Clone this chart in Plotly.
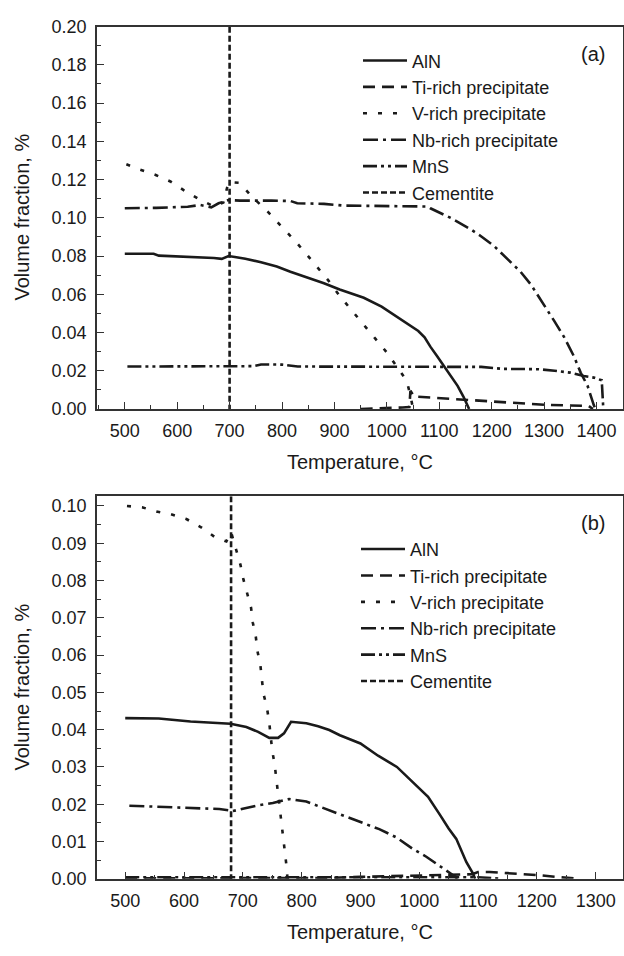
import plotly.graph_objects as go

# ---------------- data: panel (a) ----------------
aln_a_T = [500, 555, 565, 630, 670, 685, 698, 710, 730, 760, 790, 816, 850, 880, 910, 935, 956, 990, 1020, 1045, 1060, 1072, 1083, 1096, 1109, 1122, 1135, 1146, 1157]
aln_a_v = [0.0812, 0.0812, 0.0802, 0.0795, 0.0790, 0.0785, 0.0800, 0.0795, 0.0786, 0.0768, 0.0745, 0.0718, 0.0688, 0.0658, 0.0625, 0.0600, 0.0582, 0.0535, 0.0479, 0.0437, 0.0408, 0.0375, 0.0326, 0.0276, 0.0224, 0.0172, 0.0121, 0.0065, 0.0]

ti_a_T = [950, 1000, 1030, 1043, 1045, 1052, 1080, 1130, 1170, 1220, 1260, 1300, 1350, 1385, 1393]
ti_a_v = [0.0, 0.0003, 0.0008, 0.001, 0.0095, 0.0065, 0.006, 0.005, 0.0044, 0.0037, 0.0028, 0.0022, 0.0018, 0.0016, 0.0]

v_a_T = [503, 529, 559, 587, 613, 641, 671, 688, 698, 719, 743, 771, 797, 822, 846, 869, 889, 911, 934, 956, 978, 1001, 1020, 1038, 1045, 1050]
v_a_v = [0.128, 0.1252, 0.1224, 0.119, 0.1144, 0.1098, 0.1059, 0.108, 0.1187, 0.1183, 0.111, 0.1037, 0.096, 0.0888, 0.0812, 0.0735, 0.067, 0.0588, 0.0513, 0.0445, 0.0368, 0.0292, 0.022, 0.0147, 0.007, 0.0]

nb_a_T = [500, 560, 620, 644, 665, 679, 698, 720, 780, 816, 829, 880, 918, 960, 1000, 1040, 1078, 1083, 1103, 1122, 1160, 1179, 1204, 1230, 1255, 1275, 1300, 1319, 1338, 1357, 1370, 1383, 1395, 1398]
nb_a_v = [0.105, 0.1052, 0.1058, 0.1067, 0.1055, 0.1076, 0.1093, 0.109, 0.109, 0.1088, 0.1076, 0.1073, 0.1064, 0.1062, 0.106, 0.1059, 0.1059, 0.105, 0.1025, 0.0999, 0.094, 0.0905, 0.0854, 0.0786, 0.0718, 0.065, 0.0547, 0.0462, 0.0377, 0.0275, 0.0189, 0.0121, 0.0019, 0.0]

mns_a_T = [505, 600, 700, 745, 760, 800, 830, 900, 1000, 1100, 1180, 1220, 1290, 1320, 1350, 1376, 1395, 1410, 1412, 1413]
mns_a_v = [0.0222, 0.0222, 0.0222, 0.0224, 0.0233, 0.0232, 0.0222, 0.0222, 0.0222, 0.0222, 0.0220, 0.021, 0.0208, 0.020, 0.019, 0.0172, 0.0164, 0.0150, 0.008, 0.0]

cem_a_T = [700, 700]
cem_a_v = [0.2, 0.0]

# ---------------- data: panel (b) ----------------
aln_b_T = [500, 557, 611, 679, 706, 726, 745, 760, 770, 777, 782, 808, 828, 847, 865, 900, 930, 962, 990, 1015, 1035, 1050, 1063, 1080, 1091, 1095]
aln_b_v = [0.0431, 0.0430, 0.0422, 0.0416, 0.0407, 0.0394, 0.0378, 0.0378, 0.0390, 0.0410, 0.0421, 0.0417, 0.0409, 0.0399, 0.0385, 0.0363, 0.0330, 0.0300, 0.0258, 0.0220, 0.0172, 0.0135, 0.0107, 0.0045, 0.0015, 0.0]

ti_b_T = [500, 850, 900, 950, 1000, 1050, 1090, 1100, 1120, 1150, 1200, 1240, 1260, 1270]
ti_b_v = [0.0001, 0.0002, 0.0005, 0.0007, 0.0009, 0.001, 0.0012, 0.0018, 0.0018, 0.0015, 0.001, 0.0004, 0.0002, 0.0]

v_b_T = [503, 530, 553, 577, 604, 629, 652, 672, 680, 689, 696, 701, 707, 714, 717, 722, 725, 730, 735, 741, 745, 750, 754, 757, 760, 765, 768, 771, 774, 776]
v_b_v = [0.100, 0.0996, 0.0985, 0.0978, 0.0965, 0.0943, 0.0917, 0.0905, 0.093, 0.0882, 0.0842, 0.0803, 0.0765, 0.0727, 0.0687, 0.065, 0.061, 0.0571, 0.0497, 0.0459, 0.0418, 0.0343, 0.0308, 0.0269, 0.0229, 0.0155, 0.0116, 0.0076, 0.0038, 0.0]

nb_b_T = [507, 600, 660, 680, 682, 700, 723, 751, 779, 808, 847, 893, 932, 961, 989, 1012, 1029, 1043, 1057, 1065]
nb_b_v = [0.0196, 0.0191, 0.0187, 0.0183, 0.0181, 0.0188, 0.0196, 0.0203, 0.0214, 0.0207, 0.0184, 0.0155, 0.0133, 0.0111, 0.008, 0.0059, 0.0041, 0.0024, 0.001, 0.0]

mns_b_T = [500, 600, 700, 800, 900, 1000, 1100, 1140]
mns_b_v = [0.0004, 0.0004, 0.0004, 0.0004, 0.0004, 0.0004, 0.0004, 0.0]

cem_b_T = [680, 680]
cem_b_v = [0.1026, 0.0]

names = ["AlN", "Ti-rich precipitate", "V-rich precipitate", "Nb-rich precipitate", "MnS", "Cementite"]

# ---------------- styling ----------------
FONT = "Liberation Sans, Arial, sans-serif"
INK = "#1a1a1a"
dashes = ["solid", "12px,7px", "4px,11px", "15px,5px,3px,5px", "14px,4px,3px,4px,3px,4px", "6px,3px"]
W, H = 624, 956

def px_x(p):
    return p / W

def px_y(p):
    return 1 - p / H

fig = go.Figure()

panel_a = [(aln_a_T, aln_a_v), (ti_a_T, ti_a_v), (v_a_T, v_a_v), (nb_a_T, nb_a_v), (mns_a_T, mns_a_v), (cem_a_T, cem_a_v)]
panel_b = [(aln_b_T, aln_b_v), (ti_b_T, ti_b_v), (v_b_T, v_b_v), (nb_b_T, nb_b_v), (mns_b_T, mns_b_v), (cem_b_T, cem_b_v)]

for i, (T, v) in enumerate(panel_a):
    fig.add_trace(go.Scatter(x=T, y=v, mode="lines", name=names[i], xaxis="x", yaxis="y",
                             legend="legend",
                             line=dict(color=INK, width=2.6, dash=dashes[i])))
for i, (T, v) in enumerate(panel_b):
    fig.add_trace(go.Scatter(x=T, y=v, mode="lines", name=names[i], xaxis="x2", yaxis="y2",
                             legend="legend2",
                             line=dict(color=INK, width=2.6, dash=dashes[i])))

x_dom = [px_x(97), px_x(622.7)]
axis_common = dict(showline=True, mirror=True, linecolor="#333", linewidth=1.5,
                   ticks="inside", ticklen=7, tickwidth=1.3, tickcolor="#333",
                   showgrid=False, zeroline=False,
                   tickfont=dict(family=FONT, size=18, color=INK))

fig.update_layout(
    width=W, height=H,
    margin=dict(l=0, r=0, t=0, b=0),
    paper_bgcolor="white", plot_bgcolor="white",
    font=dict(family=FONT, color=INK),
    xaxis=dict(domain=x_dom, anchor="y", range=[447, 1450], tickvals=list(range(500, 1401, 100)),
               minor=dict(tickvals=list(range(450, 1451, 50)), ticks="inside", ticklen=4, tickcolor="#333"),
               ticklabelstandoff=5, **axis_common),
    yaxis=dict(domain=[px_y(407.5), px_y(17)], anchor="x", range=[0, 0.2], tickvals=[i / 100 for i in range(0, 21, 2)],
               ticktext=["%.2f" % (i / 100) for i in range(0, 21, 2)],
               minor=dict(tickvals=[i / 100 for i in range(1, 20, 2)], ticks="inside", ticklen=4, tickcolor="#333"),
               ticklabelstandoff=5, **axis_common),
    xaxis2=dict(domain=x_dom, anchor="y2", range=[452, 1346], tickvals=list(range(500, 1301, 100)),
                minor=dict(tickvals=list(range(500, 1301, 50)), ticks="inside", ticklen=4, tickcolor="#333"),
                ticklabelstandoff=5, **axis_common),
    yaxis2=dict(domain=[px_y(887.3), px_y(496.7)], anchor="x2", range=[0, 0.1026], tickvals=[i / 100 for i in range(0, 11)],
                ticktext=["%.2f" % (i / 100) for i in range(0, 11)],
                minor=dict(tickvals=[i / 1000 for i in range(5, 101, 10)], ticks="inside", ticklen=4, tickcolor="#333"),
                ticklabelstandoff=5, **axis_common),
    legend=dict(x=px_x(358), y=px_y(33), xanchor="left", yanchor="top", bgcolor="rgba(0,0,0,0)",
                font=dict(family=FONT, size=18, color=INK), itemwidth=44, tracegroupgap=0),
    legend2=dict(x=px_x(356), y=px_y(532), xanchor="left", yanchor="top", bgcolor="rgba(0,0,0,0)",
                 font=dict(family=FONT, size=18, color=INK), itemwidth=44, tracegroupgap=0),
    showlegend=True,
)

ann_font = dict(family=FONT, size=20, color=INK)

def note(text, x, y, angle=0):
    fig.add_annotation(text=text, x=px_x(x), y=px_y(y), xref="paper", yref="paper",
                       xanchor="center", yanchor="middle", showarrow=False,
                       textangle=angle, font=ann_font)

note("(a)", 593, 45)
note("(b)", 593, 524)
note("Temperature, °C", 360, 462)
note("Temperature, °C", 360, 942)
note("Volume fraction, %", 22, 212, -90)
note("Volume fraction, %", 22, 692, -90)

fig.write_html("out.html")
